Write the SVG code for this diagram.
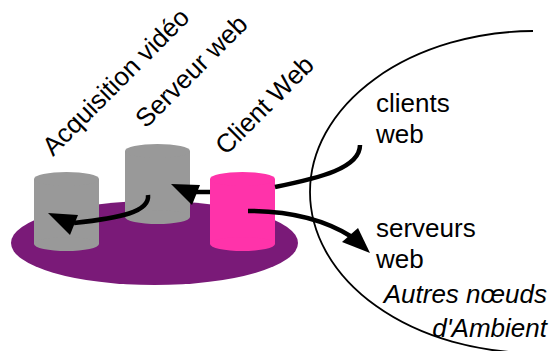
<svg xmlns="http://www.w3.org/2000/svg" width="552" height="351" viewBox="0 0 552 351">
<style>
.lbl{font-family:"Liberation Sans",Arial,sans-serif;font-size:26px;fill:#000}
.it{font-style:italic}
.gray{fill:#999999}
.pink{fill:#ff33aa}
.conn{fill:none;stroke:#000;stroke-width:4.5}
.head{fill:#000}
</style>
<rect width="552" height="351" fill="#fff"/>
<g id="ambient-others">
<path d="M533,31 A225,161 0 0 0 310,192 A225,161 0 0 0 535,353" fill="none" stroke="#000" stroke-width="1.8"/>
<text class="lbl" x="376" y="112">clients</text>
<text class="lbl" x="376" y="143">web</text>
<text class="lbl" x="376" y="237">serveurs</text>
<text class="lbl" x="376" y="268">web</text>
<text class="lbl it" x="547" y="303" text-anchor="end">Autres nœuds</text>
<text class="lbl it" x="547" y="337" text-anchor="end">d'Ambient</text>
</g>
<g id="platform">
<ellipse cx="154.5" cy="243" rx="143.5" ry="42" fill="#7a1a78"/>
</g>
<g id="acquisition-video">
<rect class="gray" x="34" y="179" width="65" height="65"/>
<ellipse class="gray" cx="66.5" cy="179" rx="32.5" ry="7"/>
<ellipse class="gray" cx="66.5" cy="244" rx="32.5" ry="7"/>
<text class="lbl" transform="translate(53,157) rotate(-45)">Acquisition vidéo</text>
</g>
<g id="serveur-web">
<rect class="gray" x="125" y="151" width="65" height="66"/>
<ellipse class="gray" cx="157.5" cy="151" rx="32.5" ry="7"/>
<ellipse class="gray" cx="157.5" cy="217" rx="32.5" ry="7"/>
<text class="lbl" transform="translate(146,129) rotate(-45)">Serveur web</text>
</g>
<g id="client-web">
<rect class="pink" x="210" y="179" width="65" height="65"/>
<ellipse class="pink" cx="242.5" cy="179" rx="32.5" ry="7"/>
<ellipse class="pink" cx="242.5" cy="244" rx="32.5" ry="7"/>
<text class="lbl" transform="translate(226,156) rotate(-45)">Client Web</text>
</g>
<g id="connectors">
<path class="conn" d="M360,145 C360,168 320,178 275,187 M210,192 L196,192"/>
<polygon class="head" points="171,184 200,185 192,205"/>
<path class="conn" d="M148,195 C150,212 120,218 74,223"/>
<polygon class="head" points="48,213 78,215 70,235"/>
<path class="conn" d="M248,211 C290,211 325,220 352,237"/>
<polygon class="head" points="370,253 342,242 358,228"/>
</g>
</svg>
